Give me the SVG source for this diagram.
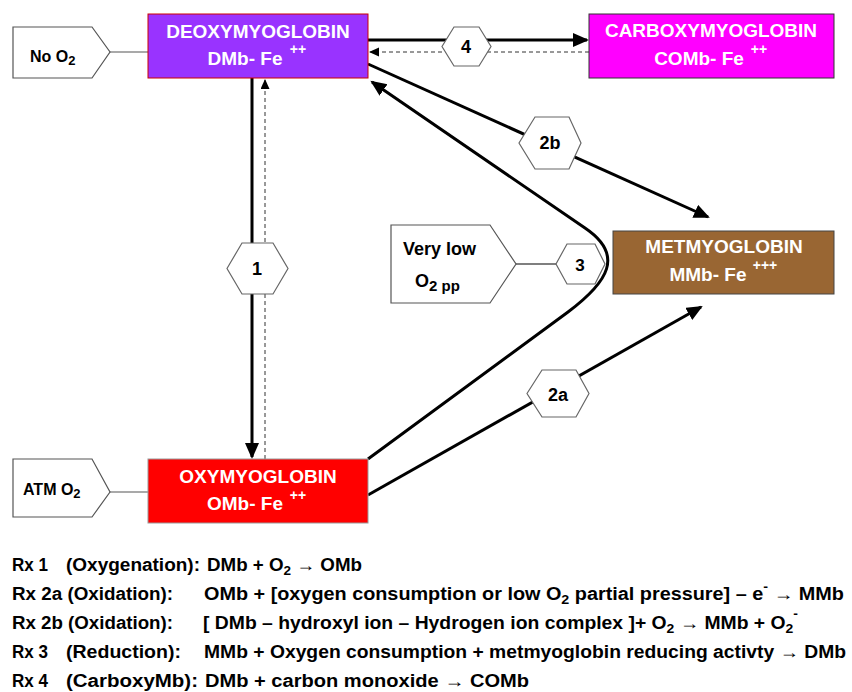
<svg xmlns="http://www.w3.org/2000/svg" width="852" height="692" viewBox="0 0 852 692">
<style>
  text { font-family: "Liberation Sans", Arial, sans-serif; font-weight: bold; }
  .box { stroke-width: 1; }
  .wt { fill: #ffffff; font-size: 19px; text-anchor: middle; }
  .sup { font-size: 14px; }
  .pent { fill: #ffffff; stroke: #555555; stroke-width: 1.2; }
  .hex { fill: #ffffff; stroke: #666666; stroke-width: 1.2; }
  .hl { fill: #000000; font-size: 18px; text-anchor: middle; }
  .pl { fill: #000000; font-size: 16px; }
  .thick { fill: none; stroke: #000000; stroke-width: 3; }
  .thin { fill: none; stroke: #555555; stroke-width: 1.2; }
  .dash { fill: none; stroke: #333333; stroke-width: 1; stroke-dasharray: 4 3; }
  .rx { fill: #000000; font-size: 18px; }
</style>
<defs>
  <marker id="big" markerUnits="userSpaceOnUse" markerWidth="18" markerHeight="16" refX="14" refY="7" orient="auto">
    <path d="M0,0 L16,7 L0,14 z" fill="#000000"/>
  </marker>
  <marker id="small" markerUnits="userSpaceOnUse" markerWidth="12" markerHeight="10" refX="9" refY="4.5" orient="auto">
    <path d="M0,0 L10,4.5 L0,9 z" fill="#000000"/>
  </marker>
</defs>

<g id="connectors">
  <line class="thin" x1="110" y1="52" x2="148" y2="52"/>
  <line class="thin" x1="110" y1="492" x2="148" y2="492"/>
  <line class="thin" x1="516" y1="264" x2="556" y2="264" style="stroke:#000"/>
  <line class="thick" x1="252" y1="78" x2="252" y2="457" marker-end="url(#big)"/>
  <line class="dash" x1="265" y1="459" x2="265" y2="80" marker-end="url(#small)"/>
  <line class="thick" x1="368" y1="40" x2="587" y2="40" marker-end="url(#big)"/>
  <line class="dash" x1="589" y1="52" x2="370" y2="52" marker-end="url(#small)"/>
  <line class="thick" x1="368" y1="64" x2="708" y2="217" marker-end="url(#big)"/>
  <line class="thick" x1="368" y1="495" x2="701" y2="307" marker-end="url(#big)"/>
  <path class="thick" d="M368,459 L568,312 C608,282 625,255 585,228 L372,82" marker-end="url(#big)"/>
</g>

<g id="deoxy">
  <rect class="box" x="148" y="14" width="220" height="64" fill="#9933FF" stroke="#CC0000"/>
  <text class="wt" x="258" y="38">DEOXYMYOGLOBIN</text>
  <text class="wt" x="245" y="65">DMb- Fe</text>
  <text class="wt sup" x="298" y="54">++</text>
</g>
<g id="carboxy">
  <rect class="box" x="589" y="14" width="245" height="64" fill="#FF00FF" stroke="#333333"/>
  <text class="wt" x="711" y="37">CARBOXYMYOGLOBIN</text>
  <text class="wt" x="699" y="65">COMb- Fe</text>
  <text class="wt sup" x="759" y="54">++</text>
</g>
<g id="metmyo">
  <rect class="box" x="613" y="231" width="221" height="63" fill="#996633" stroke="#444444"/>
  <text class="wt" x="724" y="253">METMYOGLOBIN</text>
  <text class="wt" x="708" y="281">MMb- Fe</text>
  <text class="wt sup" x="765" y="270">+++</text>
</g>
<g id="oxy">
  <rect class="box" x="148" y="459" width="220" height="64" fill="#FF0000" stroke="#999999"/>
  <text class="wt" x="258" y="483">OXYMYOGLOBIN</text>
  <text class="wt" x="245" y="510">OMb- Fe</text>
  <text class="wt sup" x="298" y="500">++</text>
</g>

<g id="no-o2">
  <polygon class="pent" points="13,27 92,27 110,52 92,78 13,78"/>
  <text class="pl" x="30" y="62">No O<tspan font-size="13" dy="3">2</tspan></text>
</g>
<g id="atm-o2">
  <polygon class="pent" points="13,459 92,459 110,492 92,517 13,517"/>
  <text class="pl" x="23" y="495">ATM O<tspan font-size="13" dy="3">2</tspan></text>
</g>
<g id="very-low">
  <polygon class="pent" points="391,225 490,225 516,264 490,303 391,303"/>
  <text class="pl" x="403" y="255" style="font-size:18px">Very low</text>
  <text class="pl" x="415" y="287" style="font-size:18px">O<tspan font-size="15" dy="4">2 pp</tspan></text>
</g>

<g id="hex-1">
  <polygon class="hex" points="227,268.5 242,243 273,243 288,268.5 273,294 242,294"/>
  <text class="hl" x="257" y="275">1</text>
</g>
<g id="hex-2a">
  <polygon class="hex" points="527,393.5 542,370 576,370 589,393.5 576,417 542,417"/>
  <text class="hl" x="558" y="401">2a</text>
</g>
<g id="hex-2b">
  <polygon class="hex" points="519,143 535,117 569,117 581,143 569,169 535,169"/>
  <text class="hl" x="550" y="149">2b</text>
</g>
<g id="hex-3">
  <polygon class="hex" points="556,264 567,244 595,244 605,264 595,284 567,284"/>
  <text class="hl" x="580" y="271" style="font-size:17px">3</text>
</g>
<g id="hex-4">
  <polygon class="hex" points="442,46.5 454,27 479,27 491,46.5 479,66 454,66"/>
  <text class="hl" x="466" y="53">4</text>
</g>

<g id="reactions">
  <text class="rx" x="12" y="571" textLength="36" lengthAdjust="spacingAndGlyphs">Rx 1</text>
  <text class="rx" x="66" y="571" textLength="134" lengthAdjust="spacingAndGlyphs">(Oxygenation):</text>
  <text class="rx" x="207" y="571" textLength="155" lengthAdjust="spacingAndGlyphs">DMb + O<tspan font-size="13" dy="4">2</tspan><tspan dy="-4"> → OMb</tspan></text>

  <text class="rx" x="12" y="600" textLength="161" lengthAdjust="spacingAndGlyphs">Rx 2a (Oxidation):</text>
  <text class="rx" x="204" y="600" textLength="640" lengthAdjust="spacingAndGlyphs">OMb + [oxygen consumption or low O<tspan font-size="13" dy="4">2</tspan><tspan dy="-4"> partial pressure]  –  e</tspan><tspan font-size="13" dy="-9">-</tspan><tspan dy="9">  →  MMb</tspan></text>

  <text class="rx" x="12" y="629" textLength="161" lengthAdjust="spacingAndGlyphs">Rx 2b (Oxidation):</text>
  <text class="rx" x="203" y="629" textLength="595" lengthAdjust="spacingAndGlyphs">[ DMb – hydroxyl ion – Hydrogen ion complex ]+ O<tspan font-size="13" dy="4">2</tspan><tspan dy="-4">  →  MMb + O</tspan><tspan font-size="13" dy="4">2</tspan><tspan font-size="13" dy="-15">-</tspan></text>

  <text class="rx" x="12" y="658" textLength="36" lengthAdjust="spacingAndGlyphs">Rx 3</text>
  <text class="rx" x="66" y="658" textLength="115" lengthAdjust="spacingAndGlyphs">(Reduction):</text>
  <text class="rx" x="204" y="658" textLength="642" lengthAdjust="spacingAndGlyphs">MMb + Oxygen consumption + metmyoglobin reducing activty  →  DMb</text>

  <text class="rx" x="12" y="687" textLength="36" lengthAdjust="spacingAndGlyphs">Rx 4</text>
  <text class="rx" x="66" y="687" textLength="132" lengthAdjust="spacingAndGlyphs">(CarboxyMb):</text>
  <text class="rx" x="205" y="687" textLength="324" lengthAdjust="spacingAndGlyphs">DMb + carbon monoxide  →   COMb</text>
</g>
</svg>
